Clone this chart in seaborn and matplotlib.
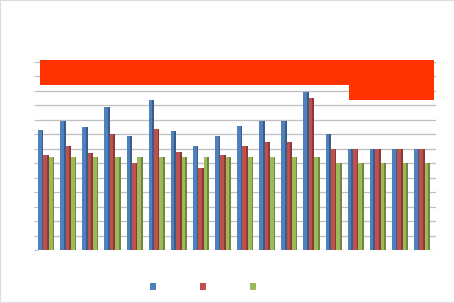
import matplotlib
matplotlib.use("Agg")
import matplotlib.pyplot as plt
from matplotlib.patches import Rectangle, Patch
import matplotlib.colors as mcolors
import seaborn as sns
import pandas as pd

categories = [str(i) for i in range(1, 19)]
series_names = ["Series 1", "Series 2", "Series 3"]
blue_vals = [8.3, 8.9, 8.5, 9.9, 7.9, 10.4, 8.2, 7.2, 7.9, 8.6, 8.9, 8.9, 10.9, 8.0, 7.0, 7.0, 7.0, 7.0]
red_vals = [6.6, 7.2, 6.7, 8.0, 6.0, 8.4, 6.8, 5.7, 6.6, 7.2, 7.45, 7.45, 10.5, 7.0, 7.0, 7.0, 7.0, 7.0]
green_vals = [6.4, 6.4, 6.4, 6.4, 6.4, 6.4, 6.4, 6.4, 6.4, 6.4, 6.4, 6.4, 6.4, 6.0, 6.0, 6.0, 6.0, 6.0]
palette = ["#4F81BD", "#C0504D", "#9BBB59"]

df = pd.DataFrame({
    "category": categories * 3,
    "series": [series_names[0]] * 18 + [series_names[1]] * 18 + [series_names[2]] * 18,
    "value": blue_vals + red_vals + green_vals,
})

sns.set_style("white")
fig = plt.figure(figsize=(4.54, 3.03), dpi=100)
ax = fig.add_axes([38 / 454, 1 - 250 / 303, (436 - 38) / 454, (250 - 62) / 303])

sns.barplot(data=df, x="category", y="value", hue="series", palette=palette,
            width=0.73, ax=ax, legend=False, saturation=1, linewidth=0, zorder=3)

# darker side strip for a 3D look
for p in list(ax.patches):
    fc = mcolors.to_rgb(p.get_facecolor())
    dark = tuple(c * 0.72 for c in fc)
    x, w, h = p.get_x(), p.get_width(), p.get_height()
    ax.add_patch(Rectangle((x + 0.68 * w, 0), 0.32 * w, h, facecolor=dark,
                           edgecolor="none", zorder=4))

ax.set_ylim(0, 13)
ax.set_xlim(-0.37, 17.63)
ax.set_yticks(range(0, 14))
ax.set_yticklabels([])
ax.set_xticks([])
ax.set_xlabel("")
ax.set_ylabel("")
ax.grid(axis="y", color="#BFBFBF", linewidth=0.9, zorder=0)
ax.set_axisbelow(True)
ax.tick_params(axis="y", length=3, color="#BFBFBF", width=0.8, left=True)
for s in ax.spines.values():
    s.set_visible(False)

# red banner overlay
banner = "#FF3300"
fig.add_artist(Rectangle((40 / 454, 1 - 85 / 303), (434 - 40) / 454, 25 / 303,
                         transform=fig.transFigure, facecolor=banner, edgecolor="none", zorder=10))
fig.add_artist(Rectangle((349 / 454, 1 - 100 / 303), (434 - 349) / 454, 16 / 303,
                         transform=fig.transFigure, facecolor=banner, edgecolor="none", zorder=10))

# legend markers without text
handles = [Patch(facecolor=c, edgecolor="none") for c in palette]
fig.legend(handles, ["", "", ""], ncol=3, loc="center", bbox_to_anchor=(203 / 454, 1 - 287 / 303),
           frameon=False, fontsize=8, handlelength=0.6, handleheight=0.6,
           handletextpad=0, columnspacing=3.9)

# light outer border
fig.add_artist(Rectangle((0, 0), 1.2, 1, transform=fig.transFigure, facecolor="none",
                         edgecolor="#DDDDDD", linewidth=1.5, zorder=20))

fig.savefig("out.png", dpi=100)
